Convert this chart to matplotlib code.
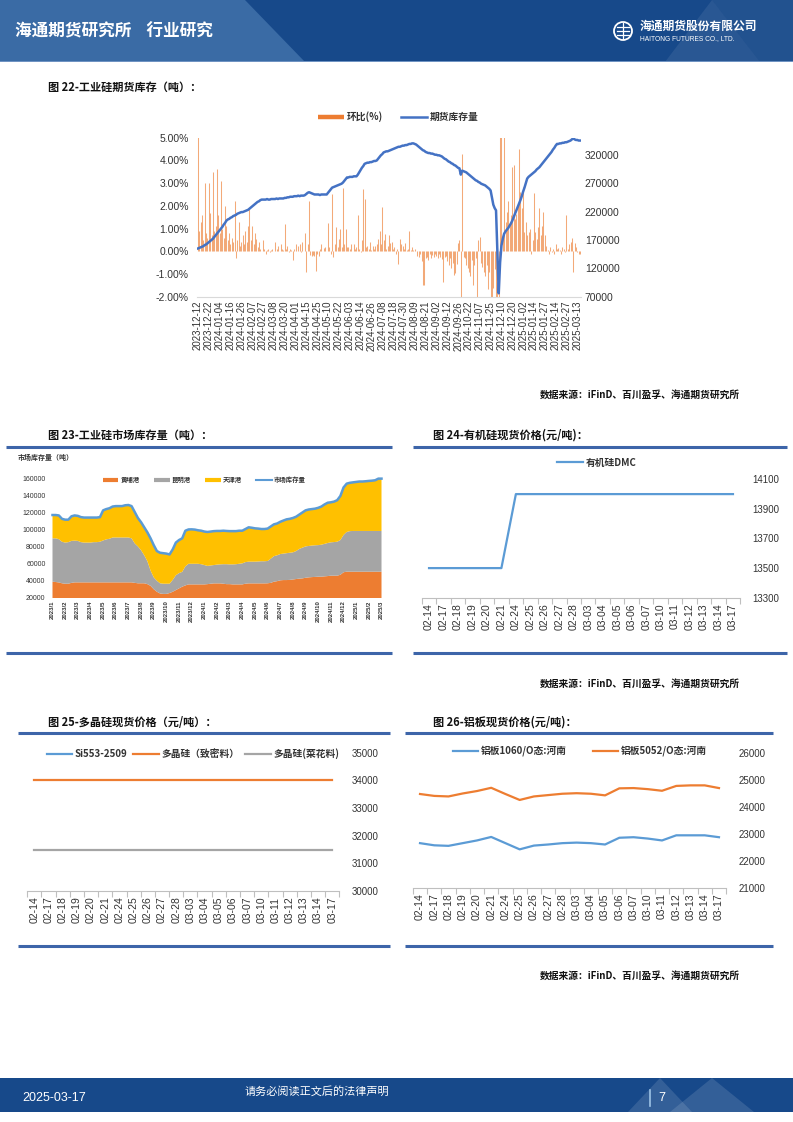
import numpy as np
import matplotlib
matplotlib.use('Agg')
import matplotlib.pyplot as plt
from matplotlib.patches import Polygon, Rectangle, Circle
from matplotlib.lines import Line2D

plt.rcParams['font.family'] = ['Noto Sans CJK SC', 'DejaVu Sans']
plt.rcParams['axes.unicode_minus'] = False

W, H = 793, 1122
CJK = ['Noto Sans CJK SC', 'DejaVu Sans']
NUM = ['Liberation Sans', 'DejaVu Sans']
DARK = '#333333'
ORANGE = '#ED7D31'
BLUE = '#5B9BD5'
GRAY = '#A5A5A5'
YELLOW = '#FFC000'
RULE = '#3D65A9'
NAVY = '#17498A'

# ---------------- 图22 工业硅期货库存 (daily) ----------------
fut_dates = ['2023-12-12', '2023-12-22', '2024-01-04', '2024-01-16', '2024-01-26', '2024-02-07',
             '2024-02-27', '2024-03-08', '2024-03-20', '2024-04-01', '2024-04-15', '2024-04-25',
             '2024-05-10', '2024-05-22', '2024-06-03', '2024-06-14', '2024-06-26', '2024-07-08',
             '2024-07-18', '2024-07-30', '2024-08-09', '2024-08-21', '2024-09-02', '2024-09-12',
             '2024-09-26', '2024-10-22', '2024-11-07', '2024-11-25', '2024-12-10', '2024-12-20',
             '2025-01-02', '2025-01-14', '2025-01-27', '2025-02-14', '2025-02-27', '2025-03-13']

# futures inventory, thousand tonnes
fut_stock_kt = [
    155, 156, 157, 158, 159, 161, 162, 164, 166, 168, 170, 172, 175, 178, 181,
    184, 187, 190, 193, 197, 200, 204,
    206, 207, 209, 210, 212, 213, 214, 216,
    217, 218, 219, 219, 220, 221, 222, 223, 225,
    227, 229, 231, 233, 235, 237, 238, 240,
    241, 241, 241, 241, 242, 241, 241, 242, 242, 242, 242, 243, 242, 243, 243, 243, 243,
    244, 244, 245, 245, 246, 246, 246, 247, 247, 247, 248, 247, 248, 248, 248,
    249, 251, 253, 254,
    253, 252, 251, 250, 250, 250,
    250, 249, 250, 250, 250, 250, 250,
    253, 256, 259, 262,
    263, 264, 265, 266, 267, 268, 269,
    271, 274, 277, 280,
    280, 281, 281, 281, 282, 282, 282,
    285, 289, 293, 297, 300, 304,
    305, 306, 306, 307, 307, 308, 309, 309, 310,
    313, 316, 319, 321, 324,
    325, 326, 326, 327, 328, 329, 330, 331, 332, 333,
    334, 334, 335, 336, 336, 337, 337, 338, 339, 339, 340, 340,
    339, 338, 336, 334, 332, 330, 328, 327, 325, 324,
    323, 323, 322, 322, 321, 320, 320, 319, 319, 318,
    317, 315, 313, 312, 310, 308, 307,
    305, 304, 302, 301, 299, 297, 296, 285, 292,
    291, 290, 289, 287, 285, 283,
    281, 279, 277, 275, 274, 272, 271, 269,
    268, 267, 266, 264, 262, 260, 257,
    245, 232, 226, 222, 150, 76,
    130, 160, 172, 181,
    185, 188, 191, 195, 199,
    204, 210, 216, 222, 228, 234, 240,
    247, 255, 262, 270, 278,
    281, 283, 285, 287, 289, 291, 294, 296, 298, 301,
    304, 307, 310, 313, 316, 319, 322,
    325, 329, 332, 336, 339,
    339, 340, 340, 341, 341, 342, 342, 343, 344, 345,
    347, 349, 347, 346, 346, 345, 345,
]

# day-on-day change, %
fut_chg_pct = [
    5.2, 0.9, 1.3, 1.6, 0.5, 3.0, 0.8, 0.6, 3.0, 1.7,
    0.7, 3.5, 0.9, 1.1, 3.6, 1.6, 0.8, 3.1, 1.0, 0.6,
    2.0, 1.1, 0.5, 0.8, 0.3, 0.6, 0.4, 2.2, -0.3, 0.5,
    1.3, 0.25, 0.4, 0.7, 0.3, 0.9, 0.4, 1.1, 1.9, 0.5,
    1.1, 0.3, 0.8, 0.55, 0.2, 0.4, 0.1, 0.0, 0.5, 0.1,
    -0.1, 0.05, 0.1, -0.05, 0.05, 0.1, 0.0, 0.4, 0.1, 0.25,
    0.0, 0.3, 0.1, 0.05, 1.2, 0.1, 0.25, -0.05, 0.1, 0.05,
    -0.4, 0.1, 0.3, 0.0, 0.25, 0.3, -0.05, 0.4, 0.0, 0.8,
    -0.9, 0.3, 2.2, -0.15, -0.2, -0.15, -0.2, -0.85, -0.1, -0.2,
    0.1, 0.3, 0.0, 0.15, 0.2, 0.0, 1.25, 0.2, -0.1, 2.5,
    -0.25, 0.3, 1.05, 0.2, 0.55, 1.0, 0.2, 2.8, 0.3, 1.0,
    0.2, 0.2, 0.1, 0.3, 0.0, 0.3, 0.1, 0.2, 1.6, 0.1,
    -0.05, 0.5, 2.75, 2.3, 0.2, 0.25, 0.1, 0.4, 0.05, 0.25,
    0.1, 0.25, 0.3, 0.55, 0.9, 0.3, 1.95, 0.5, 0.75, 0.1,
    0.25, 0.7, 0.35, 0.4, 0.1, 0.2, -0.1, 0.1, -0.55, 0.55,
    0.3, 0.25, 0.1, 0.35, 0.05, 0.1, 0.9, 0.05, 0.2, 0.05,
    0.1, 0.0, -0.2, -0.25, -0.1, -0.45, -1.5, -1.5, -0.3, -0.25,
    -0.4, -0.1, -0.3, -0.15, -0.25, -0.1, -0.2, -0.3, -0.1, -0.25,
    -0.35, -1.35, -0.25, -0.2, -0.45, -0.6, -0.3, -0.75, -0.5, -1.05,
    -0.95, -0.55, 0.35, 0.5, -2.6, 4.3, -0.25, -0.3, -0.6, -0.75,
    -0.9, -1.1, -0.4, -1.5, -0.6, -0.3, -2.4, 0.5, 0.65, -0.5,
    -0.7, -0.9, -1.1, -0.6, -1.65, -0.9, -2.3, -2.5, -1.6, -0.8,
    -2.2, -35.0, -50.0, 5.5, 5.5, 0.7, 5.5, 1.3, 1.75, 2.2,
    1.15, 1.6, 3.7, 3.8, 1.4, 1.65, 2.1, 4.5, 2.6, 1.9,
    2.85, 0.85, 1.3, 0.7, 0.85, 1.0, -0.1, 0.5, 2.55, 0.85,
    0.55, 1.05, 1.9, 0.7, 1.1, 1.75, 0.7, 0.25, 0.05, -0.1,
    0.2, -0.05, 0.1, -0.1, 0.3, 0.1, 0.15, 0.05, -0.1, 0.2,
    0.1, -0.05, 1.6, 0.1, 0.3, 0.4, 0.6, -0.9, 0.35, 0.2,
    -0.05, -0.1, -0.1,
]

# ---------------- 图23 工业硅市场库存量 (weekly) ----------------
mkt_months = ['2023/1', '2023/2', '2023/3', '2023/4', '2023/5', '2023/6', '2023/7', '2023/8',
              '2023/9', '2023/10', '2023/11', '2023/12', '2024/1', '2024/2', '2024/3', '2024/4',
              '2024/5', '2024/6', '2024/7', '2024/8', '2024/9', '2024/10', '2024/11', '2024/12',
              '2025/1', '2025/2', '2025/3']

# thousand tonnes
huangpu_kt = [
    38.9, 38.5, 38.0, 37.0, 36.5, 36.5, 37.5, 38.1, 38.1, 38.1,
    38.1, 38.1, 38.1, 38.1, 38.1, 38.1, 38.1, 38.1, 38.1, 38.1,
    38.1, 38.1, 38.1, 38.1, 38.1, 38.1, 37.5, 37.0, 37.0, 37.0,
    36.0, 34.0, 30.0, 27.0, 25.0, 24.5, 24.5, 25.5, 27.0, 29.0,
    31.0, 33.0, 34.5, 35.7, 35.7, 35.7, 35.7, 35.7, 35.7, 36.0,
    36.5, 36.9, 36.9, 36.9, 36.5, 36.0, 36.0, 35.7, 35.7, 35.7,
    35.7, 36.5, 36.9, 36.9, 36.9, 36.9, 36.9, 36.9, 37.0, 37.5,
    38.9, 39.5, 40.5, 40.8, 40.8, 41.0, 41.5, 42.0, 42.5, 42.8,
    43.5, 44.0, 44.3, 44.5, 44.8, 44.8, 45.2, 45.5, 46.0, 46.0,
    46.0, 47.0, 50.0, 50.7, 50.7, 50.7, 50.7, 50.7, 50.7, 50.7,
    50.7, 50.7, 50.7, 50.7, 50.7,
]
kunming_kt = [
    51.1, 51.5, 51.0, 49.0, 48.5, 49.0, 49.5, 49.2, 48.9, 47.4,
    46.9, 46.9, 46.9, 47.4, 47.4, 47.9, 49.4, 50.7, 51.4, 52.9,
    52.9, 52.9, 52.9, 52.9, 52.9, 51.9, 46.5, 43.5, 39.0, 33.0,
    27.0, 18.0, 14.0, 13.0, 12.0, 12.0, 12.0, 11.0, 14.0, 17.5,
    18.0, 17.5, 22.5, 24.3, 24.3, 24.3, 24.3, 23.8, 22.8, 21.5,
    21.5, 21.6, 22.1, 22.4, 23.0, 23.5, 23.3, 23.6, 23.8, 24.3,
    24.8, 25.5, 25.6, 25.6, 25.6, 25.8, 26.1, 26.1, 26.3, 28.5,
    30.1, 30.5, 31.0, 31.2, 31.7, 32.0, 32.0, 33.0, 35.0, 36.2,
    37.0, 37.0, 37.2, 37.3, 37.2, 37.7, 38.3, 39.0, 39.3, 39.6,
    40.0, 41.0, 44.0, 46.8, 47.8, 48.0, 48.0, 48.0, 48.0, 48.0,
    48.0, 48.0, 48.0, 48.0, 48.0,
]
tianjin_kt = [
    27.5, 27.5, 28.0, 27.0, 27.0, 26.5, 29.0, 29.7, 29.5, 29.5,
    29.5, 29.5, 29.5, 29.0, 29.0, 29.0, 35.5, 35.7, 36.0, 36.5,
    37.0, 37.0, 37.0, 38.0, 38.3, 38.0, 37.0, 33.5, 33.0, 33.0,
    34.0, 38.0, 38.0, 35.0, 36.0, 36.0, 35.5, 34.5, 36.0, 38.5,
    39.0, 39.5, 42.0, 40.5, 40.6, 40.3, 39.5, 39.5, 39.5, 40.0,
    40.0, 40.0, 39.7, 39.4, 39.5, 39.2, 39.2, 39.2, 39.0, 39.0,
    38.5, 39.0, 40.5, 40.0, 39.3, 38.8, 38.0, 38.0, 38.2, 38.0,
    37.5, 37.5, 38.0, 39.0, 39.9, 40.0, 40.5, 40.5, 40.5, 41.5,
    42.5, 43.0, 43.0, 43.2, 44.0, 45.0, 46.5, 47.5, 47.2, 47.7,
    49.0, 52.0, 56.0, 57.0, 57.0, 57.3, 57.8, 58.3, 58.3, 58.6,
    59.0, 59.3, 59.8, 61.7, 61.7,
]

# ---------------- 图24-26 spot prices ----------------
spot_days = ['02-14', '02-17', '02-18', '02-19', '02-20', '02-21', '02-24', '02-25', '02-26',
             '02-27', '02-28', '03-03', '03-04', '03-05', '03-06', '03-07', '03-10', '03-11',
             '03-12', '03-13', '03-14', '03-17']

dmc = [13500, 13500, 13500, 13500, 13500, 13500, 14000, 14000, 14000, 14000, 14000,
       14000, 14000, 14000, 14000, 14000, 14000, 14000, 14000, 14000, 14000, 14000]

si553_2509 = []  # no values shown in the source chart
poly_dense = [34000, 34000, 34000, 34000, 34000, 34000, 34000, 34000, 34000, 34000, 34000,
              34000, 34000, 34000, 34000, 34000, 34000, 34000, 34000, 34000, 34000, 34000]
poly_cauli = [31500, 31500, 31500, 31500, 31500, 31500, 31500, 31500, 31500, 31500, 31500,
              31500, 31500, 31500, 31500, 31500, 31500, 31500, 31500, 31500, 31500, 31500]

al_1060 = [22650, 22570, 22550, 22650, 22750, 22880, 22650, 22420, 22560, 22600, 22650,
           22670, 22650, 22600, 22850, 22870, 22820, 22750, 22940, 22940, 22940, 22870]
al_5052 = [24470, 24400, 24380, 24490, 24580, 24700, 24470, 24250, 24380, 24430, 24480,
           24500, 24480, 24420, 24680, 24690, 24650, 24590, 24770, 24790, 24790, 24690]

SOURCE = '数据来源：iFinD、百川盈孚、海通期货研究所'


fig = plt.figure(figsize=(W / 100, H / 100), dpi=100)
bg = fig.add_axes([0, 0, 1, 1])
bg.set_xlim(0, W)
bg.set_ylim(H, 0)
bg.axis('off')


def px_axes(x0, y0, x1, y1):
    ax = fig.add_axes([x0 / W, 1 - y1 / H, (x1 - x0) / W, (y1 - y0) / H])
    ax.set_facecolor('none')
    return ax


def put_legend(ax, handles, labels, cx, cy, **kw):
    leg = ax.legend(handles, labels, loc='center', bbox_to_anchor=(cx / W, 1 - cy / H),
                    bbox_transform=fig.transFigure, frameon=False, borderpad=0,
                    borderaxespad=0, **kw)
    for t in leg.get_texts():
        t.set_fontweight('bold')
        t.set_color(DARK)
    return leg


def rule(x0, x1, y):
    bg.plot([x0, x1], [y, y], color=RULE, lw=2.2, solid_capstyle='butt')


def title(x, y, s):
    bg.text(x, y, s, fontsize=8, weight='bold', va='center', color='#111111')


# ---- header / footer
bg.add_patch(Rectangle((0, 0), W, 62, color=NAVY, lw=0))
bg.add_patch(Polygon([(0, 0), (245, 0), (305, 62), (0, 62)], closed=True, color='#3A6BA5', lw=0))
bg.add_patch(Polygon([(665, 62), (712, 0), (760, 62)], closed=True, color='white', alpha=0.08, lw=0))
bg.add_patch(Polygon([(712, 0), (793, 0), (793, 62), (760, 62)], closed=True, color='white', alpha=0.05, lw=0))
bg.add_patch(Rectangle((0, 60.5), W, 1.5, color='#6F93C2', lw=0))
bg.text(15, 31, '海通期货研究所    行业研究', color='white', fontsize=12, weight='bold', va='center')
bg.add_patch(Circle((623, 31), 9, fill=False, ec='white', lw=1.3))
for yy in (27, 31, 35):
    bg.plot([617, 629], [yy, yy], color='white', lw=0.9)
bg.plot([623, 623], [23, 39], color='white', lw=0.9)
bg.text(640, 26, '海通期货股份有限公司', color='white', fontsize=8.5, weight='bold', va='center')
bg.text(640, 38.5, 'HAITONG FUTURES CO., LTD.', color='white', fontsize=4.8, family=NUM, va='center')

bg.add_patch(Rectangle((0, 1078), W, 34, color=NAVY, lw=0))
bg.add_patch(Polygon([(628, 1112), (660, 1078), (692, 1112)], closed=True, color='white', alpha=0.12, lw=0))
bg.add_patch(Polygon([(670, 1112), (712, 1078), (754, 1112)], closed=True, color='white', alpha=0.12, lw=0))
bg.text(22, 1098, '2025-03-17', color='white', fontsize=9, family=NUM, va='center')
bg.text(245, 1091, '请务必阅读正文后的法律声明', color='white', fontsize=8, va='center')
bg.plot([650, 650], [1090, 1106], color='#9DC3E6', lw=1.2)
bg.text(658, 1098, '7', color='white', fontsize=9, family=NUM, va='center')

# ---- 图22
title(48, 87, '图 22-工业硅期货库存（吨）：')
ax = px_axes(197.3, 137.7, 580.7, 296.7)
xb = np.arange(len(fut_chg_pct))
ax.vlines(xb, 0, np.array(fut_chg_pct) / 100, colors=ORANGE, alpha=0.65, linewidth=0.75)
ax.set_xlim(-0.5, 282.5)
ax.set_ylim(-0.02, 0.05)
yt = np.arange(-2, 6) / 100
ax.set_yticks(yt)
ax.set_yticklabels([f'{v * 100:.2f}%' for v in yt], family=NUM, fontsize=7.5, color=DARK)
ax.set_xticks(np.arange(len(fut_dates)) * 8)
ax.set_xticklabels(fut_dates, rotation=90, family=NUM, fontsize=7, color=DARK)
ax.tick_params(length=0)
ax.tick_params(axis='y', pad=6)
ax.tick_params(axis='x', pad=3)
for s in ['top', 'left', 'right']:
    ax.spines[s].set_visible(False)
ax.spines['bottom'].set_color('#D9D9D9')
ax2 = ax.twinx()
ax2.plot(np.arange(len(fut_stock_kt)), np.array(fut_stock_kt) * 1000, color='#4472C4', lw=1.8)
ax2.set_ylim(70000, 350000)
ax2.set_yticks(np.arange(70000, 320001, 50000))
ax2.set_yticklabels([str(v) for v in np.arange(70000, 320001, 50000)], family=NUM, fontsize=7.5, color=DARK)
ax2.tick_params(length=0, pad=3)
for s in ax2.spines.values():
    s.set_visible(False)
put_legend(ax2, [Line2D([], [], color=ORANGE, lw=3.2, solid_capstyle='butt'),
                 Line2D([], [], color='#4472C4', lw=1.8)],
           ['环比(%)', '期货库存量'], 398, 117, ncol=2, fontsize=7, handlelength=2.7,
           handletextpad=0.3, columnspacing=1.8)
bg.text(540, 395, SOURCE, fontsize=7, weight='bold', va='center', color='#111111')

# ---- 图23
title(48, 435, '图 23-工业硅市场库存量（吨）：')
rule(6, 392, 447)
rule(6, 392, 653)
bg.text(18, 457, '市场库存量（吨）', fontsize=5, weight='bold', va='center', color=DARK)
ax = px_axes(52.5, 477.7, 381.5, 597.7)
xm = np.arange(len(huangpu_kt))
hp = np.array(huangpu_kt) * 1000
km = np.array(kunming_kt) * 1000
tj = np.array(tianjin_kt) * 1000
ax.stackplot(xm, hp, km, tj, colors=[ORANGE, GRAY, YELLOW], linewidth=0)
ax.plot(xm, hp + km + tj, color=BLUE, lw=1.8, clip_on=False)
ax.set_xlim(0, len(huangpu_kt) - 1)
ax.set_ylim(20000, 161500)
ax.set_yticks(np.arange(20000, 160001, 20000))
ax.set_yticklabels([str(v) for v in np.arange(20000, 160001, 20000)], family=NUM, fontsize=5, color=DARK)
ax.set_xticks(np.arange(len(mkt_months)) * 4)
ax.set_xticklabels(mkt_months, rotation=90, family=NUM, fontsize=4.3, color=DARK, weight='bold')
ax.tick_params(length=0)
ax.tick_params(axis='y', pad=5)
ax.tick_params(axis='x', pad=2)
for s in ax.spines.values():
    s.set_visible(False)
put_legend(ax, [Line2D([], [], color=c, lw=3, solid_capstyle='butt') for c in (ORANGE, GRAY, YELLOW)]
           + [Line2D([], [], color=BLUE, lw=1.5)],
           ['黄埔港', '昆明港', '天津港', '市场库存量'], 204, 479.5, ncol=4, fontsize=4.6,
           handlelength=2.5, handletextpad=0.3, columnspacing=2.2)


def price_axes(x0, y0, x1, y1, lo, hi, step):
    ax = px_axes(x0, y0, x1, y1)
    n = len(spot_days)
    ax.set_xlim(-0.5, n - 0.5)
    ax.set_ylim(lo, hi)
    ticks = np.arange(lo, hi + 1, step)
    ax.yaxis.tick_right()
    ax.set_yticks(ticks)
    ax.set_yticklabels([str(v) for v in ticks], family=NUM, fontsize=7, color=DARK)
    ax.set_xticks(np.arange(n))
    ax.set_xticklabels(spot_days, rotation=90, family=NUM, fontsize=7.5, color=DARK)
    ax.set_xticks(np.arange(n + 1) - 0.5, minor=True)
    ax.tick_params(axis='x', which='major', length=0, pad=4)
    ax.tick_params(axis='x', which='minor', length=4, width=0.8, color='#BFBFBF')
    ax.tick_params(axis='y', length=0, pad=9)
    for s in ['top', 'left', 'right']:
        ax.spines[s].set_visible(False)
    ax.spines['bottom'].set_color('#BFBFBF')
    ax.spines['bottom'].set_linewidth(0.8)
    return ax


# ---- 图24
title(433, 435, '图 24-有机硅现货价格(元/吨)：')
rule(413, 787, 447)
rule(413, 787, 653)
ax = price_axes(421.8, 479.3, 740.2, 597.7, 13300, 14100, 200)
ax.plot(np.arange(len(dmc)), dmc, color=BLUE, lw=1.6)
put_legend(ax, [Line2D([], [], color=BLUE, lw=1.6)], ['有机硅DMC'], 597, 462.5,
           fontsize=7, handlelength=2.6, handletextpad=0.3)
bg.text(540, 684, SOURCE, fontsize=7, weight='bold', va='center', color='#111111')

# ---- 图25
title(48, 722, '图 25-多晶硅现货价格（元/吨）：')
rule(18, 390, 733)
rule(18, 390, 946)
ax = price_axes(27.2, 752.7, 339.4, 891, 30000, 35000, 1000)
ax.plot(np.arange(len(si553_2509)), si553_2509, color=BLUE, lw=1.6)
ax.plot(np.arange(len(poly_dense)), poly_dense, color=ORANGE, lw=1.6)
ax.plot(np.arange(len(poly_cauli)), poly_cauli, color=GRAY, lw=1.6)
put_legend(ax, [Line2D([], [], color=c, lw=1.6) for c in (BLUE, ORANGE, GRAY)],
           ['Si553-2509', '多晶硅（致密料）', '多晶硅(菜花料)'], 193, 754, ncol=3,
           fontsize=7, handlelength=2.6, handletextpad=0.3, columnspacing=0.6)

# ---- 图26
title(433, 722, '图 26-铝板现货价格(元/吨)：')
rule(405, 773, 733)
rule(405, 773, 946)
ax = price_axes(412.9, 752.7, 726.1, 887.7, 21000, 26000, 1000)
ax.plot(np.arange(len(al_1060)), al_1060, color=BLUE, lw=1.6)
ax.plot(np.arange(len(al_5052)), al_5052, color=ORANGE, lw=1.6)
put_legend(ax, [Line2D([], [], color=c, lw=1.6) for c in (BLUE, ORANGE)],
           ['铝板1060/O态:河南', '铝板5052/O态:河南'], 580, 751, ncol=2,
           fontsize=7, handlelength=2.6, handletextpad=0.3, columnspacing=2.6)
bg.text(540, 976, SOURCE, fontsize=7, weight='bold', va='center', color='#111111')

fig.savefig('out.png', dpi=100)
